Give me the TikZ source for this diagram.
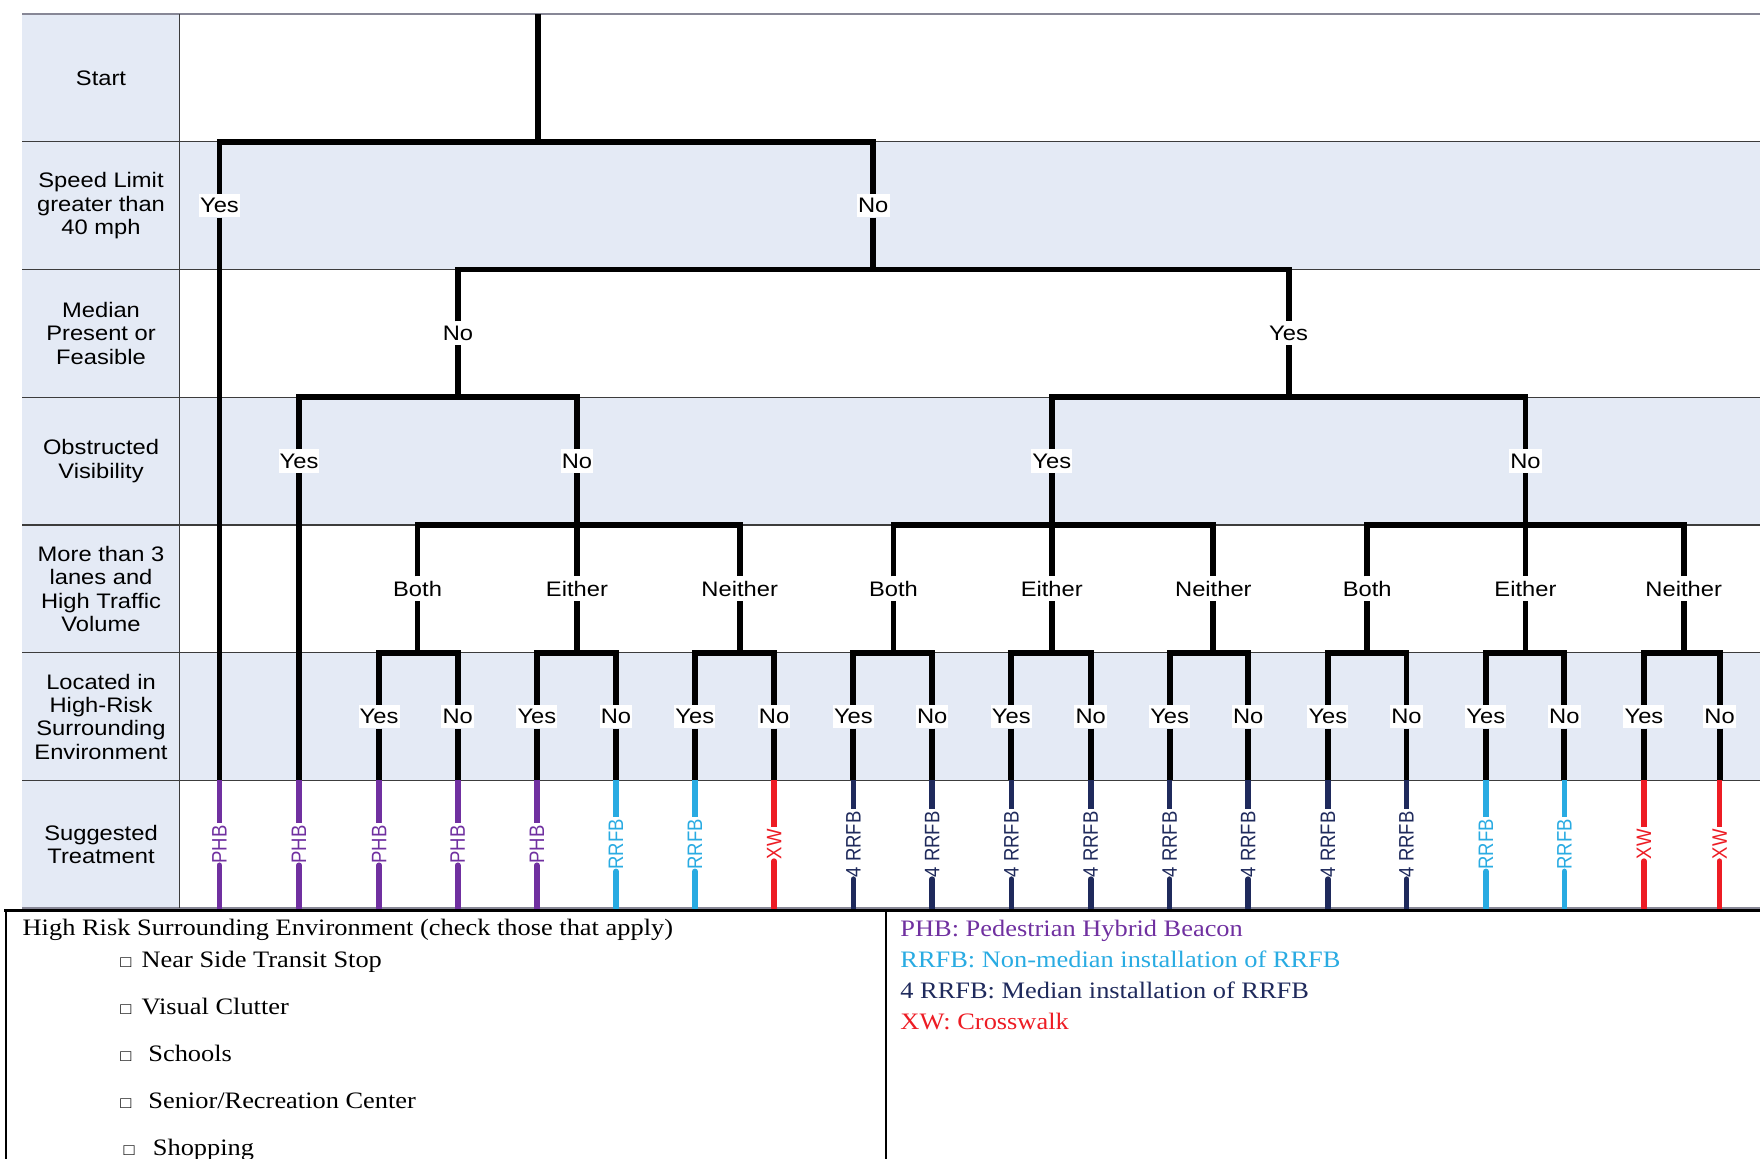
\documentclass[tikz,border=0pt]{standalone}
\usepackage{fontspec}
\usepackage{graphicx}
\setmainfont{Liberation Serif}[FakeStretch=1.12]
\setsansfont{Liberation Sans}[FakeStretch=1.13]
\newfontfamily\leaffont{Liberation Sans}
\definecolor{rowblue}{RGB}{228,234,245}
\definecolor{phb}{RGB}{112,48,160}
\definecolor{rrfb}{RGB}{41,171,226}
\definecolor{frrfb}{RGB}{31,42,92}
\definecolor{xw}{RGB}{237,28,36}
\definecolor{gridgray}{RGB}{60,60,60}
\definecolor{topgray}{RGB}{135,135,150}
\tikzset{
  tl/.style={line width=5.2pt, black},
  leafline/.style={line width=5pt},
  lbl/.style={font=\sffamily\fontsize{18.7}{20.8}\selectfont, fill=white, inner xsep=1pt, inner ysep=4pt},
  hdr/.style={font=\sffamily\fontsize{18.7}{20.8}\selectfont, align=center},
  leaf/.style={rotate=90, fill=white, inner xsep=1.5pt, inner ysep=1pt, font=\leaffont\fontsize{16.5}{16.5}\selectfont},
  legtext/.style={anchor=base west, inner sep=0pt, font=\rmfamily\fontsize{21}{27.7}\selectfont},
  boxglyph/.style={anchor=base west, inner sep=0pt, font=\rmfamily\fontsize{14.5}{14.5}\selectfont},
  gridline/.style={gridgray, line width=1.2pt},
  boxline/.style={black, line width=2.2pt}
}
\begin{document}
\begin{tikzpicture}[x=1pt,y=-1pt]
\useasboundingbox (0,0) rectangle (1568,1032);
% shading
\fill[rowblue] (20,12.5) rectangle (160,809.1);
\fill[rowblue] (160,126.3) rectangle (1568,240.1);
\fill[rowblue] (160,353.9) rectangle (1568,467.7);
\fill[rowblue] (160,581.5) rectangle (1568,695.3);
% grid
\draw[topgray, line width=1.3pt] (20,12.5) -- (1568,12.5);
\foreach \y in {126.3,240.1,353.9,467.7,581.5,695.3}
  \draw[gridline] (20,\y) -- (1568,\y);
\draw[topgray, line width=1.3pt] (20,809.1) -- (1568,809.1);
\draw[gridline] (160,12.5) -- (160,809.1);
% header column
\node[hdr] (h0) at (90,69.4) {Start};
\node[hdr] (h1) at (90,183.2) {Speed Limit\\greater than\\40 mph};
\node[hdr] (h2) at (90,297.0) {Median\\Present or\\Feasible};
\node[hdr] (h3) at (90,410.8) {Obstructed\\Visibility};
\node[hdr] (h4) at (90,524.6) {More than 3\\lanes and\\High Traffic\\Volume};
\node[hdr] (h5) at (90,638.4) {Located in\\High-Risk\\Surrounding\\Environment};
\node[hdr] (h6) at (90,752.2) {Suggested\\Treatment};
% level 1
\coordinate (top) at (479,12.5);
\coordinate (j1) at (479,126.3);
\node[lbl] (s_yes) at (195.5,183.2) {Yes};
\node[lbl] (s_no) at (778,183.2) {No};
\draw[tl] (top) -- (j1);
\draw[tl] (s_yes) |- (j1) -| (s_no);
% level 2
\coordinate (j2) at (778,240.1);
\node[lbl] (m_no) at (408,297.0) {No};
\node[lbl] (m_yes) at (1148,297.0) {Yes};
\draw[tl] (s_no) -- (j2);
\draw[tl] (m_no) |- (j2) -| (m_yes);
% level 3
\coordinate (j3a) at (408,353.9);
\coordinate (j3b) at (1148,353.9);
\node[lbl] (o_yes1) at (266.4,410.8) {Yes};
\node[lbl] (o_no1) at (514,410.8) {No};
\node[lbl] (o_yes2) at (937,410.8) {Yes};
\node[lbl] (o_no2) at (1359,410.8) {No};
\draw[tl] (m_no) -- (j3a);
\draw[tl] (o_yes1) |- (j3a) -| (o_no1);
\draw[tl] (m_yes) -- (j3b);
\draw[tl] (o_yes2) |- (j3b) -| (o_no2);
% level 4
\coordinate (j4a) at (514,467.7);
\coordinate (j4b) at (937,467.7);
\coordinate (j4c) at (1359,467.7);
\node[lbl] (t_b1) at (372,524.6) {Both};
\node[lbl] (t_e1) at (514,524.6) {Either};
\node[lbl] (t_n1) at (659,524.6) {Neither};
\node[lbl] (t_b2) at (796,524.6) {Both};
\node[lbl] (t_e2) at (937,524.6) {Either};
\node[lbl] (t_n2) at (1081,524.6) {Neither};
\node[lbl] (t_b3) at (1218,524.6) {Both};
\node[lbl] (t_e3) at (1359,524.6) {Either};
\node[lbl] (t_n3) at (1500,524.6) {Neither};
\draw[tl] (o_no1) -- (t_e1);
\draw[tl] (t_b1) |- (j4a) -| (t_n1);
\draw[tl] (o_yes2) -- (t_e2);
\draw[tl] (t_b2) |- (j4b) -| (t_n2);
\draw[tl] (o_no2) -- (t_e3);
\draw[tl] (t_b3) |- (j4c) -| (t_n3);
% level 5
\foreach \p/\px/\a/\ax/\b/\bx in {t_b1/372/3/337.7/4/407.8, t_e1/514/5/478.3/6/548.8, t_n1/659/7/619/8/689.6, t_b2/796/9/760.3/10/830.5, t_e2/937/11/901/12/971.7, t_n2/1081/13/1042/14/1112, t_b3/1218/15/1183/16/1253, t_e3/1359/17/1323.7/18/1393.7, t_n3/1500/19/1464.6/20/1532}{
  \coordinate (j5\p) at (\px,581.5);
  \node[lbl] (e\a) at (\ax,638.4) {Yes};
  \node[lbl] (e\b) at (\bx,638.4) {No};
  \draw[tl] (\p) -- (j5\p);
  \draw[tl] (e\a) |- (j5\p) -| (e\b);
}
% leaves
\foreach \i/\x/\c/\t in {1/195.5/phb/{PHB}, 2/266.4/phb/{PHB}, 3/337.7/phb/{PHB}, 4/407.8/phb/{PHB}, 5/478.3/phb/{PHB}, 6/548.8/rrfb/{RRFB}, 7/619/rrfb/{RRFB}, 8/689.6/xw/{XW}, 9/760.3/frrfb/{4 RRFB}, 10/830.5/frrfb/{4 RRFB}, 11/901/frrfb/{4 RRFB}, 12/971.7/frrfb/{4 RRFB}, 13/1042/frrfb/{4 RRFB}, 14/1112/frrfb/{4 RRFB}, 15/1183/frrfb/{4 RRFB}, 16/1253/frrfb/{4 RRFB}, 17/1323.7/rrfb/{RRFB}, 18/1393.7/rrfb/{RRFB}, 19/1464.6/xw/{XW}, 20/1532/xw/{XW}}{
  \coordinate (lt\i) at (\x,695.3);
  \coordinate (lb\i) at (\x,809.1);
  \node[leaf, text=\c] (lf\i) at (\x,752.2) {\scalebox{1}[1.13]{\t}};
  \draw[leafline, color=\c] (lt\i) -- (lf\i);
  \draw[leafline, color=\c, line cap=round] (lf\i) -- (lb\i);
}
\draw[tl] (s_yes) -- (lt1);
\draw[tl] (o_yes1) -- (lt2);
\foreach \i in {3,...,20}
  \draw[tl] (e\i) -- (lt\i);
% bottom box
\draw[boxline] (4,811) -- (1568,811);
\draw[boxline] (5.3,811) -- (5.3,1034);
\draw[boxline] (789.4,811) -- (789.4,1034);
% left list
\node[legtext] (hr) at (20,833) {High Risk Surrounding Environment (check those that apply)};
\node[boxglyph] (b1) at (107,862) {□};
\node[legtext] (i1) at (126,862) {Near Side Transit Stop};
\node[boxglyph] (b2) at (107,904) {□};
\node[legtext] (i2) at (126,904) {Visual Clutter};
\node[boxglyph] (b3) at (107,946) {□};
\node[legtext] (i3) at (132,946) {Schools};
\node[boxglyph] (b4) at (107,988) {□};
\node[legtext] (i4) at (132,988) {Senior/Recreation Center};
\node[boxglyph] (b5) at (110,1029) {□};
\node[legtext] (i5) at (136,1029) {Shopping};
% right legend
\node[legtext, text=phb] (k1) at (802,834.5) {PHB: Pedestrian Hybrid Beacon};
\node[legtext, text=rrfb] (k2) at (802,862) {RRFB: Non-median installation of RRFB};
\node[legtext, text=frrfb] (k3) at (802,889.5) {4 RRFB: Median installation of RRFB};
\node[legtext, text=xw] (k4) at (802,917.5) {XW: Crosswalk};
\end{tikzpicture}
\end{document}
